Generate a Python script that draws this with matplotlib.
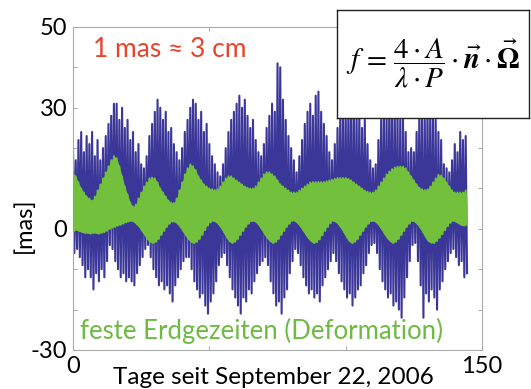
import matplotlib.pyplot as plt
import numpy as np
from matplotlib.ticker import FixedLocator, FixedFormatter

plt.rcParams['font.family'] = ['Lato', 'DejaVu Sans']
plt.rcParams['mathtext.fontset'] = 'stix'

# daily extremes (days since Sep 22, 2006), in mas
days = np.arange(145)

blue_high = [20, 17, 22, 24, 19, 23, 21, 24, 18, 22, 17, 20, 23, 26, 28, 31, 31, 27, 30, 25,
             27, 22, 24, 19, 21, 16, 15, 18, 23, 26, 29, 32, 30, 27, 29, 24, 25, 21, 19, 17,
             20, 24, 27, 30, 32, 31, 27, 29, 24, 26, 21, 18, 16, 14, 13, 16, 20, 24, 27, 29,
             31, 33, 30, 32, 28, 25, 27, 22, 19, 18, 21, 25, 28, 31, 29, 41, 40, 32, 27, 23,
             20, 17, 14, 18, 22, 26, 29, 31, 28, 33, 34, 29, 26, 23, 19, 17, 21, 25, 28, 30,
             29, 32, 30, 31, 28, 29, 25, 27, 21, 17, 15, 16, 22, 27, 30, 28, 32, 31, 29, 30,
             27, 28, 24, 19, 20, 19, 24, 28, 30, 27, 31, 29, 28, 27, 24, 22, 16, 15, 14, 17,
             21, 19, 24, 22, 23]

blue_low = [-6, -5, -7, -9, -12, -10, -12, -15, -11, -13, -10, -12, -8, -4, -5, -8, -10, -12, -11, -13,
            -12, -13, -14, -11, -9, -7, -5, -4, -7, -10, -12, -14, -13, -15, -14, -16, -18, -14, -12, -10,
            -8, -7, -7, -10, -13, -15, -17, -16, -19, -21, -18, -16, -13, -9, -7, -6, -9, -12, -15, -17,
            -19, -21, -17, -18, -15, -16, -13, -11, -9, -8, -7, -9, -13, -16, -19, -18, -21, -17, -15, -11,
            -8, -5, -6, -9, -12, -14, -16, -15, -17, -16, -18, -14, -12, -10, -8, -6, -8, -11, -13, -15,
            -17, -16, -19, -17, -15, -14, -11, -9, -6, -4, -3.5, -6, -10, -13, -15, -17, -16, -19, -18, -20,
            -22, -17, -12, -8, -4, -3.5, -8, -14, -22, -16, -18, -15, -17, -20, -15, -13, -10, -8, -6, -5,
            -7, -9, -8, -12, -11]

green_high = [14, 13, 11.5, 10, 9, 8, 7.5, 7, 8, 9.5, 11, 12.5, 14, 15.5, 17, 18, 17.5, 15.5, 13, 10.5,
              8.5, 6.5, 5.5, 6, 7.5, 9, 10.5, 11.5, 12.5, 12.7, 12.5, 11.5, 10, 9, 8, 7, 6.5, 6.4, 7.5, 9.5,
              11.5, 13.5, 15, 16, 15.5, 14.5, 13, 12, 11, 10.5, 10, 9.8, 9.6, 9.8, 10.5, 11.5, 12.5, 13, 13, 12.5,
              12, 11.5, 11, 10.5, 10.2, 10, 10, 10.5, 11.5, 12.5, 13.5, 14, 14, 13.5, 13, 12, 11, 10.5, 10, 9.5,
              9, 9, 9, 9.5, 10, 10.5, 11, 11.5, 11.6, 11.6, 11.6, 11.6, 11.6, 11.8, 12, 12.2, 12.4, 12.6, 12.6, 12.6,
              12.6, 12.4, 12, 11.5, 11, 10.5, 10, 9.5, 9.2, 9, 9, 9.5, 10.5, 11.5, 12.5, 13.5, 14.2, 14.8, 15.2, 15.4,
              15.4, 15.4, 15, 14, 13, 12, 11, 10.2, 9.8, 9.6, 9.8, 10.5, 11.5, 12.5, 13.4, 13.2, 12.5, 11.5, 10.5, 9.5,
              9, 9, 9, 9, 9.5]

green_low = [-0.5, -0.3, -0.5, -0.8, -1, -1, -1.2, -1, -1, -1.2, -1, -0.8, -0.5, 0, 0.3, 0.5, 0.8, 1, 1.3, 1.6,
             1.8, 2, 1.8, 1.2, 0.5, -0.5, -1.5, -2.5, -3.2, -3.5, -3.2, -2.5, -1.5, -0.5, 0.5, 1.3, 1.8, 1.8, 1.3, 0.5,
             -0.5, -1.5, -2.5, -3.2, -3.5, -3.2, -2.5, -1.5, -0.3, 0.8, 1.6, 2, 1.8, 1.2, 0.3, -0.8, -2, -3, -3.5, -3.2,
             -2.5, -1.5, -0.5, 0.5, 1.3, 1.9, 2, 1.6, 0.8, -0.2, -1.3, -2.3, -3, -3.5, -3.2, -2.5, -1.5, -0.5, 0.5, 1.3,
             2, 2, 1.5, 0.7, -0.3, -1.3, -2.3, -3, -3.5, -3.3, -2.6, -1.6, -0.5, 0.5, 1.4, 2, 1.8, 1.2, 0.3, -0.8,
             -2, -3, -3.5, -3.2, -2.5, -1.5, -0.5, 0.5, 1.3, 1.9, 2, 1.6, 0.8, -0.2, -1.3, -2.3, -3, -3.5, -3.2, -2.5,
             -1.5, -0.5, 0.5, 1.3, 2, 1.8, 1.2, 0.3, -0.8, -2, -3, -3.4, -3.5, -3, -2.2, -1.3, -0.3, 0.7, 1.5, 2,
             1.8, 1.4, 1, 0.8, 1]

y_ticks = [-30, -20, -10, 0, 10, 20, 30, 40, 50]
y_labels = ['-30', '', '', '0', '', '', '30', '', '50']
x_ticks = [0, 50, 100, 150]
x_labels = ['0', '', '', '150']


def zigzag(hi, lo):
    # one high and one low per day
    t = np.column_stack([days, days + 0.5]).ravel()
    v = np.column_stack([hi, lo]).ravel()
    return t, v


fig = plt.figure(figsize=(5.31, 3.89), dpi=100)
ax = fig.add_axes([0.1375, 0.1003, 0.7703, 0.8303])

t, v = zigzag(blue_high, blue_low)
ax.plot(t, v, color='#3b3799', linewidth=1.5, zorder=2)
t, v = zigzag(green_high, green_low)
ax.fill_between(days, green_low, green_high, color='#72c03c', linewidth=0, zorder=3)
ax.plot(t, v, color='#72c03c', linewidth=1.4, zorder=3)

ax.set_xlim(0, 150)
ax.set_ylim(-30, 50)
ax.yaxis.set_major_locator(FixedLocator(y_ticks))
ax.yaxis.set_major_formatter(FixedFormatter(y_labels))
ax.xaxis.set_major_locator(FixedLocator(x_ticks))
ax.xaxis.set_major_formatter(FixedFormatter(x_labels))
ax.tick_params(direction='in', length=3, width=0.6, color='#999999',
               top=True, right=True, labelsize=17, pad=4)
for s in ax.spines.values():
    s.set_color('#aaaaaa')
    s.set_linewidth(0.8)

fig.text(0.515, 0.03, 'Tage seit September 22, 2006', fontsize=17.5,
         ha='center', va='center')
fig.text(0.045, 0.42, '[mas]', fontsize=17, rotation=90, ha='center', va='center')

ax.text(0.048, 0.93, '1 mas ≈ 3 cm', transform=ax.transAxes, color='#e8432c',
        fontsize=19, ha='left', va='center', zorder=5)
ax.text(0.017, 0.06, 'feste Erdgezeiten (Deformation)', transform=ax.transAxes,
        color='#6dbb43', fontsize=18.5, ha='left', va='center', zorder=5)

# formula box over the top right corner
box = fig.add_axes([0.635, 0.6967, 0.362, 0.278], zorder=10)
box.set_facecolor('white')
box.set_xticks([])
box.set_yticks([])
for s in box.spines.values():
    s.set_color('#222222')
    s.set_linewidth(1.0)
box.text(0.5, 0.5,
         r'$f\,=\,\dfrac{4\cdot A}{\lambda\cdot P}\cdot\vec{\boldsymbol{n}}\cdot\vec{\boldsymbol{\Omega}}$',
         transform=box.transAxes, ha='center', va='center', fontsize=21)

fig.savefig('out.png', dpi=100)
